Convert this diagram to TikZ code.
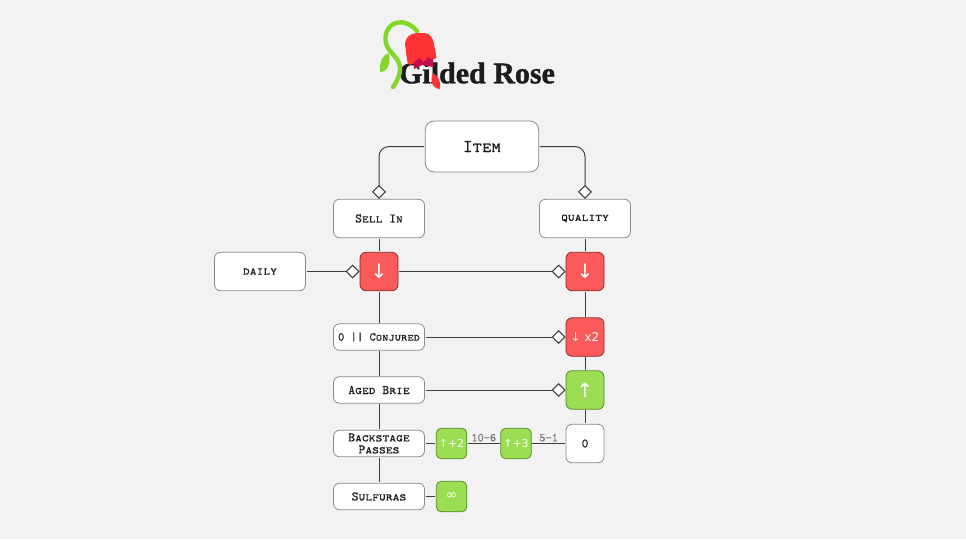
\documentclass[tikz,border=0pt]{standalone}
\usepackage{fontspec}
\usepackage{tikz}
\usetikzlibrary{arrows.meta}
\newfontfamily\titlefont{Liberation Serif}[FakeBold=1.2]
\newfontfamily\symfont{DejaVu Sans}
\newfontfamily\boxfont{Latin Modern Mono Caps}[FakeBold=0.35]
\newfontfamily\spanfont{Latin Modern Mono}[FakeBold=0.25]
\definecolor{pagebg}{HTML}{F2F2F2}
\definecolor{boxline}{HTML}{8A8A8A}
\definecolor{redfill}{HTML}{FA5A5A}
\definecolor{redline}{HTML}{8E2B2B}
\definecolor{greenfill}{HTML}{9BDD53}
\definecolor{greenline}{HTML}{568A22}
\definecolor{stemgreen}{HTML}{83D62B}
\definecolor{tulipred}{HTML}{FF3333}
\definecolor{tulipdark}{HTML}{BE0F4B}
\definecolor{inkgrey}{HTML}{1C1C1C}
\begin{document}
\begin{tikzpicture}[x=1pt, y=-1pt, line width=0.8pt,
    main/.style = {draw=boxline, fill=white, rounded corners=6pt, inner sep=0pt, align=center, text=inkgrey,
        font=\boxfont\fontsize{13}{12}\selectfont, minimum width=91pt, minimum height=26.5pt},
    big/.style = {main, minimum height=38.5pt},
    hot/.style = {main, draw=redline, fill=redfill, text=white, minimum width=38pt, minimum height=38.5pt},
    up/.style = {main, draw=greenline, fill=greenfill, text=white, minimum width=38pt, minimum height=38.5pt},
    small/.style = {main, draw=greenline, fill=greenfill, text=white, rounded corners=5pt, minimum width=30.5pt, minimum height=30.5pt},
    link/.style = {draw=inkgrey!85, line width=1pt, shorten <=0.8pt, shorten >=0.8pt},
    has/.style = {link, shorten >=0pt, -{Diamond[open, fill=white, length=14pt, width=14pt, line width=1pt]}},
    span/.style = {text=black!55, font=\spanfont\fontsize{12}{12}\selectfont, inner sep=1.5pt}]
    \useasboundingbox (0,0) rectangle (966,539);
    \fill[pagebg] (0,0) rectangle (966,539);
    % title and flower
    \node[text=inkgrey, inner sep=0pt, font=\titlefont\bfseries\fontsize{30}{30}\selectfont] (title) at (477,73) {Gilded Rose};
    \draw[stemgreen, line width=4.4pt, line cap=round] (417,31) .. controls (411,24) and (404,21.5) .. (398,22.5) .. controls (389,24) and (385,32) .. (385.5,40) .. controls (386,50) and (395,54) .. (399,63) .. controls (402,71) and (398,80) .. (393,87);
    \fill[stemgreen] (389,53) .. controls (383,55) and (379.5,60) .. (380,72) .. controls (387,72) and (391,65) .. (389,53) -- cycle;
    \fill[tulipdark] (413,58) -- (433,56) -- (433,67) -- (422,65) -- (414,69) -- cycle;
    \fill[tulipred] (405,44) .. controls (405,38) and (410,33) .. (417,33) -- (424,33) .. controls (430,33) and (433,38) .. (434,44) -- (436.5,58) .. controls (433,60) and (430,59) .. (428,57) .. controls (426,60) and (424,62) .. (423,62) .. controls (422,60) and (421,59) .. (419,58) .. controls (416,60) and (413,64) .. (410,65) .. controls (408,64) and (407,62) .. (407,60) -- cycle;
    \fill[tulipred] (433,73) .. controls (438,76) and (441,81) .. (440,89) .. controls (435,89) and (431,85) .. (431.5,78) -- cycle;
    % boxes
    \node[main, minimum width=113.5pt, minimum height=51pt, rounded corners=9pt, font=\boxfont\fontsize{18}{18}\selectfont] (item) at (482,146.5) {Item};
    \node[big] (sellin) at (379,218.5) {Sell In};
    \node[big] (quality) at (585,218.5) {quality};
    \node[big] (daily) at (260,271.5) {daily};
    \node[hot, font=\symfont\fontsize{20}{20}\selectfont] (lower) at (379,271.5) {↓};
    \node[hot, font=\symfont\fontsize{20}{20}\selectfont] (drop) at (585,271.5) {↓};
    \node[main, font=\boxfont\fontsize{12}{12}\selectfont] (conjured) at (379,337) {0 || Conjured};
    \node[hot, font=\symfont\fontsize{12}{12}\selectfont] (double) at (585,337) {↓ x2};
    \node[main] (brie) at (379,390) {Aged Brie};
    \node[up, font=\symfont\fontsize{20}{20}\selectfont] (rise) at (585,390) {↑};
    \node[main] (passes) at (379,443.5) {Backstage\\Passes};
    \node[small, font=\symfont\fontsize{11}{11}\selectfont] (plustwo) at (451.5,443.5) {↑+2};
    \node[small, font=\symfont\fontsize{11}{11}\selectfont] (plusthree) at (516,443.5) {↑+3};
    \node[big, minimum width=38pt] (zero) at (585,443.5) {0};
    \node[main] (sulfuras) at (379,496.5) {Sulfuras};
    \node[small, font=\symfont\fontsize{14}{14}\selectfont] (forever) at (451.5,496.5) {∞};
    % connectors
    \draw[has, rounded corners=10pt] (item.west) -| (sellin.north);
    \draw[has, rounded corners=10pt] (item.east) -| (quality.north);
    \draw[link] (sellin) -- (lower);
    \draw[link] (lower) -- (conjured);
    \draw[link] (conjured) -- (brie);
    \draw[link] (brie) -- (passes);
    \draw[link] (passes) -- (sulfuras);
    \draw[link] (quality) -- (drop);
    \draw[link] (drop) -- (double);
    \draw[link] (double) -- (rise);
    \draw[link] (rise) -- (zero);
    \draw[has] (daily) -- (lower);
    \draw[has] (lower) -- (drop);
    \draw[has] (conjured) -- (double);
    \draw[has] (brie) -- (rise);
    \draw[link] (passes) -- (plustwo);
    \draw[link] (plustwo) -- node[span, above] (tendays) {10-6} (plusthree);
    \draw[link] (plusthree) -- node[span, above] (fivedays) {5-1} (zero);
    \draw[link] (sulfuras) -- (forever);
\end{tikzpicture}
\end{document}
